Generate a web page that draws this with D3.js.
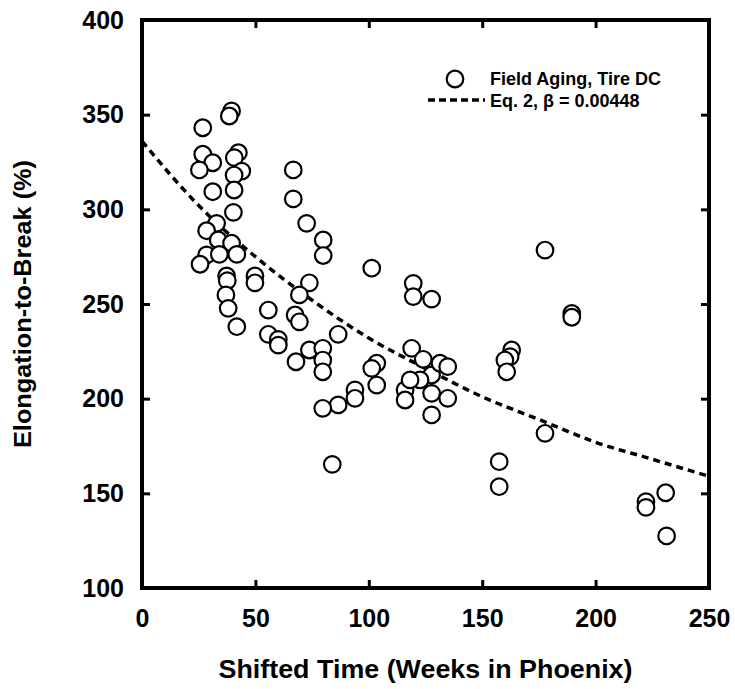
<!DOCTYPE html>
<html>
<head>
<meta charset="utf-8">
<script src="https://cdn.jsdelivr.net/npm/d3@7"></script>
<style>
  html, body { margin: 0; padding: 0; background: #fff; }
  text { font-family: "Liberation Sans", Arial, Helvetica, sans-serif; font-weight: bold; fill: #000; }
</style>
</head>
<body>
<div id="chart"></div>
<script>
const width = 735;
const height = 689;

// field aging data, shifted time (weeks) and elongation (%)
const weeks = [39.5, 38.5, 26.8, 26.8, 42.5, 40.7, 31.2, 25.3, 44, 40.6,
  40.6, 31.2, 66.7, 66.7, 40.3, 72.6, 32.9, 28.5, 79.9, 33.6,
  39.5, 79.9, 28.5, 34.1, 41.8, 25.6, 37.3, 37.6, 49.8, 49.8,
  37, 38, 41.8, 55.7, 67.5, 69.4, 73.8, 69.4, 101.3, 119.6,
  119.6, 127.7, 86.5, 55.7, 60.1, 60.1, 73.8, 79.7, 79.7, 79.7,
  67.9, 118.9, 124, 103.5, 101.3, 103.5, 127.7, 116, 116, 127.7,
  127.7, 93.9, 93.9, 86.5, 79.7, 122.6, 131.4, 134.8, 118.2, 134.8,
  177.7, 189.5, 189.5, 163, 162.3, 160, 160.8, 177.7, 157.5, 157.5,
  83.9, 230.9, 222.2, 222.2, 231.3];
const elongation = [352, 349.3, 343.1, 329.1, 329.9, 327.3, 324.6, 320.8, 320.2, 318.1,
  310.2, 309.3, 320.8, 305.5, 298.4, 292.6, 292.6, 288.7, 283.8, 283.8,
  282.1, 275.6, 275.9, 276.2, 276.2, 271, 264.8, 262.3, 264.8, 261.2,
  254.8, 247.7, 238, 246.8, 244.2, 240.6, 261.2, 254.8, 268.9, 260.9,
  253.9, 252.6, 234, 234, 231.3, 228.3, 225.7, 226.6, 220.4, 214.2,
  219.5, 226.6, 220.8, 218.7, 216, 207.2, 212.5, 204.6, 199.3, 202.8,
  191.4, 204.6, 200.2, 196.7, 194.9, 209.9, 218.7, 216.9, 209.9, 200.2,
  278.5, 245, 243, 225.7, 222.2, 220.4, 214.2, 181.7, 166.7, 153.5,
  165.3, 150.3, 145.6, 142.6, 127.5];

// Eq. 2 fit
const fitWeeks = [0, 25, 50, 75, 100, 125, 150, 175, 200, 225, 250];
const fitElong = [336, 302, 275, 252, 232, 216, 201, 189, 177, 168, 159];

const xTicks = [0, 50, 100, 150, 200, 250];
const yTicks = [100, 150, 200, 250, 300, 350, 400];

const legendLabels = ['Field Aging, Tire DC', 'Eq. 2, \u03b2 = 0.00448'];

const margin = {left: 142, right: 735 - 709, top: 20, bottom: 689 - 588};

const svg = d3.select('#chart')
    .append('svg')
    .attr('width', width)
    .attr('height', height);

const x = d3.scaleLinear().domain([0, 250]).range([margin.left, width - margin.right]);
const y = d3.scaleLinear().domain([100, 400]).range([height - margin.bottom, margin.top]);

const points = weeks.map((w, i) => ({w: w, e: elongation[i]}));
const fit = fitWeeks.map((w, i) => ({w: w, e: fitElong[i]}));

// fit curve
const line = d3.line()
    .x(d => x(d.w))
    .y(d => y(d.e))
    .curve(d3.curveMonotoneX);

svg.append('path')
    .datum(fit)
    .attr('d', line)
    .attr('fill', 'none')
    .attr('stroke', '#000')
    .attr('stroke-width', 3.5)
    .attr('stroke-dasharray', '7,5');

// data points
svg.append('g')
    .selectAll('circle')
    .data(points)
    .enter()
    .append('circle')
    .attr('cx', d => x(d.w))
    .attr('cy', d => y(d.e))
    .attr('r', 8.3)
    .attr('fill', '#fff')
    .attr('stroke', '#000')
    .attr('stroke-width', 2.2);

// axes, ticks pointing inward
function styleAxis(g) {
    g.select('.domain').remove();
    g.selectAll('.tick line').attr('stroke', '#000').attr('stroke-width', 3);
    g.selectAll('.tick text').style('font-size', '25px');
}

svg.append('g')
    .attr('transform', 'translate(0,' + y(100) + ')')
    .call(d3.axisBottom(x).tickValues(xTicks).tickSize(-8).tickPadding(21))
    .call(styleAxis);

svg.append('g')
    .attr('transform', 'translate(0,' + y(400) + ')')
    .call(d3.axisTop(x).tickValues(xTicks).tickSize(-8).tickFormat(''))
    .call(styleAxis);

svg.append('g')
    .attr('transform', 'translate(' + x(0) + ',0)')
    .call(d3.axisLeft(y).tickValues(yTicks).tickSize(-8).tickPadding(18))
    .call(styleAxis);

svg.append('g')
    .attr('transform', 'translate(' + x(250) + ',0)')
    .call(d3.axisRight(y).tickValues(yTicks).tickSize(-8).tickFormat(''))
    .call(styleAxis);

svg.selectAll('.tick text').attr('fill', '#000').style('font-family', null);

// frame
svg.append('rect')
    .attr('x', x(0))
    .attr('y', y(400))
    .attr('width', x(250) - x(0))
    .attr('height', y(100) - y(400))
    .attr('fill', 'none')
    .attr('stroke', '#000')
    .attr('stroke-width', 4);

// axis titles
svg.append('text')
    .attr('x', (x(0) + x(250)) / 2)
    .attr('y', 678)
    .attr('text-anchor', 'middle')
    .attr('textLength', 414)
    .attr('lengthAdjust', 'spacingAndGlyphs')
    .style('font-size', '25px')
    .text('Shifted Time (Weeks in Phoenix)');

svg.append('text')
    .attr('transform', 'translate(31,' + (y(100) + y(400)) / 2 + ') rotate(-90)')
    .attr('text-anchor', 'middle')
    .attr('textLength', 288)
    .attr('lengthAdjust', 'spacingAndGlyphs')
    .style('font-size', '24px')
    .text('Elongation-to-Break (%)');

// legend
const legend = svg.append('g');

legend.append('circle')
    .attr('cx', 455)
    .attr('cy', 79)
    .attr('r', 8.3)
    .attr('fill', '#fff')
    .attr('stroke', '#000')
    .attr('stroke-width', 2.2);

legend.append('line')
    .attr('x1', 428)
    .attr('x2', 485)
    .attr('y1', 100)
    .attr('y2', 100)
    .attr('stroke', '#000')
    .attr('stroke-width', 3.5)
    .attr('stroke-dasharray', '7,4');

legend.selectAll('text')
    .data(legendLabels)
    .enter()
    .append('text')
    .attr('x', 490)
    .attr('y', (d, i) => 85 + i * 22)
    .style('font-size', '18px')
    .text(d => d);
</script>
</body>
</html>
